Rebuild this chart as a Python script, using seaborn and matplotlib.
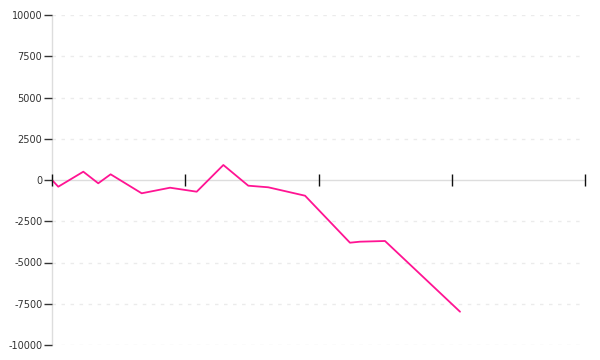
import matplotlib
matplotlib.use("Agg")
import matplotlib.pyplot as plt
import seaborn as sns
import pandas as pd

# Data
x_values = [0, 4.7, 23.5, 34.7, 44.0, 67.3, 88.6, 108.6, 128.6, 147.3, 162.3,
            189.9, 223.6, 231.1, 249.9, 306.2]
y_values = [0, -406, 503, -200, 345, -806, -467, -709, 909, -345, -442,
            -952, -3800, -3739, -3697, -7982]
y_ticks = [-10000, -7500, -5000, -2500, 0, 2500, 5000, 7500, 10000]
x_ticks = [0, 100, 200, 300, 400]

df = pd.DataFrame({"x": x_values, "y": y_values})

sns.set_style("white")
plt.rcParams["font.family"] = ["DejaVu Sans"]

fig = plt.figure(figsize=(6, 3.6), dpi=100)
ax = fig.add_axes([52 / 600, 1 - 345 / 360, (585 - 52) / 600, (345 - 15) / 360])

sns.lineplot(data=df, x="x", y="y", ax=ax, color="#ff1493", linewidth=1.3,
             sort=False, estimator=None)

ax.set_xlim(0, 400)
ax.set_ylim(-10000, 10000)
ax.set_yticks(y_ticks)
ax.set_yticklabels([str(v) for v in y_ticks])
ax.set_xticks(x_ticks)
ax.set_xticklabels([])
ax.set_xlabel("")
ax.set_ylabel("")

for yv in y_ticks:
    if yv != 0:
        ax.axhline(yv, color="#ebebeb", linewidth=1, linestyle=(0, (2.5, 4)), zorder=0)

ax.spines["top"].set_visible(False)
ax.spines["right"].set_visible(False)
for side in ("left", "bottom"):
    ax.spines[side].set_color("#dddddd")
    ax.spines[side].set_linewidth(1)
    ax.spines[side].set_zorder(0.5)
ax.spines["bottom"].set_position(("data", 0))
ax.xaxis.set_zorder(5)
ax.yaxis.set_zorder(5)

ax.tick_params(axis="y", direction="out", length=6, width=1, color="#333333",
               labelsize=7, labelcolor="#333333", pad=1, left=True)
ax.tick_params(axis="x", direction="inout", length=9, width=1, color="#111111",
               bottom=True)

fig.savefig("out.png", dpi=100)
